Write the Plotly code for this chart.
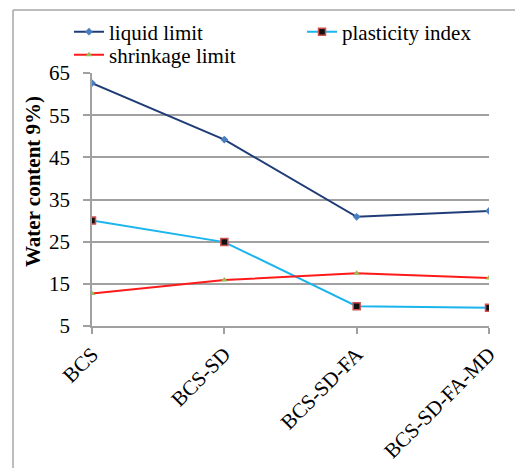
import plotly.graph_objects as go

categories = ["BCS", "BCS-SD", "BCS-SD-FA", "BCS-SD-FA-MD"]
liquid_limit = [62.6, 49.2, 30.9, 32.3]
plasticity_index = [30.0, 24.9, 9.7, 9.3]
shrinkage_limit = [12.7, 15.9, 17.5, 16.4]
y_ticks = [5, 15, 25, 35, 45, 55, 65]

W, H = 515, 468
L, R, T, B = 92, 26, 73, 142
pw, ph = W - L - R, H - T - B

def px(x):
    return (x - L) / pw

def py(y):
    return (H - B - y) / ph

xs = list(range(len(categories)))
font = "Liberation Serif"
fs = 21

fig = go.Figure()
fig.add_trace(go.Scatter(
    x=xs, y=liquid_limit, name="liquid limit", mode="lines+markers",
    line=dict(color="#1f3c78", width=2),
    marker=dict(symbol="diamond", size=6, color="#4a7ec0"),
    legend="legend",
))
fig.add_trace(go.Scatter(
    x=xs, y=plasticity_index, name="plasticity index", mode="lines+markers",
    line=dict(color="#1ab4ee", width=2),
    marker=dict(symbol="square", size=7, color="#111111",
                line=dict(color="#d05050", width=1.5)),
    legend="legend2",
))
fig.add_trace(go.Scatter(
    x=xs, y=shrinkage_limit, name="shrinkage limit", mode="lines+markers",
    line=dict(color="#ff1a1a", width=2),
    marker=dict(symbol="triangle-up", size=6, color="#9bbb59"),
    legend="legend3",
))

# outer chart frame
fig.add_shape(type="line", xref="paper", yref="paper",
              x0=px(13), x1=px(13), y0=py(470), y1=py(10),
              line=dict(color="#a6a6a6", width=1.5))
fig.add_shape(type="line", xref="paper", yref="paper",
              x0=px(13), x1=px(520), y0=py(10), y1=py(10),
              line=dict(color="#a6a6a6", width=1.5))

# y-axis title
fig.add_annotation(
    text="<b>Water content 9%)</b>", textangle=-90, showarrow=False,
    xref="paper", yref="paper", x=px(33), y=py(182),
    xanchor="center", yanchor="middle",
    font=dict(family=font, size=fs, color="black"),
)

legend_common = dict(
    orientation="h", xanchor="left", yanchor="middle",
    font=dict(family=font, size=fs, color="black"),
    bgcolor="rgba(0,0,0,0)", borderwidth=0, itemwidth=30,
)

fig.update_layout(
    width=W, height=H,
    margin=dict(l=L, r=R, t=T, b=B, autoexpand=False),
    paper_bgcolor="white", plot_bgcolor="white",
    font=dict(family=font, size=fs, color="black"),
    showlegend=True,
    legend=dict(x=px(69), y=py(32), **legend_common),
    legend2=dict(x=px(302), y=py(32), **legend_common),
    legend3=dict(x=px(69), y=py(55), **legend_common),
    xaxis=dict(
        range=[0, 3], tickvals=xs, ticktext=categories, tickangle=-45,
        showgrid=False, showline=True, linecolor="#a0a0a0", linewidth=1.5,
        ticks="outside", ticklen=6, tickcolor="#a0a0a0", tickwidth=1.5,
        tickfont=dict(family=font, size=fs), zeroline=False,
    ),
    yaxis=dict(
        range=[5, 65], tickvals=y_ticks, showgrid=True, gridcolor="#a0a0a0",
        gridwidth=1.5, showline=True, linecolor="#a0a0a0", linewidth=1.5,
        ticks="outside", ticklen=7, tickcolor="#a0a0a0", tickwidth=1.5,
        ticklabelstandoff=9,
        tickfont=dict(family=font, size=fs), zeroline=False,
    ),
)

fig.write_html("out.html")
